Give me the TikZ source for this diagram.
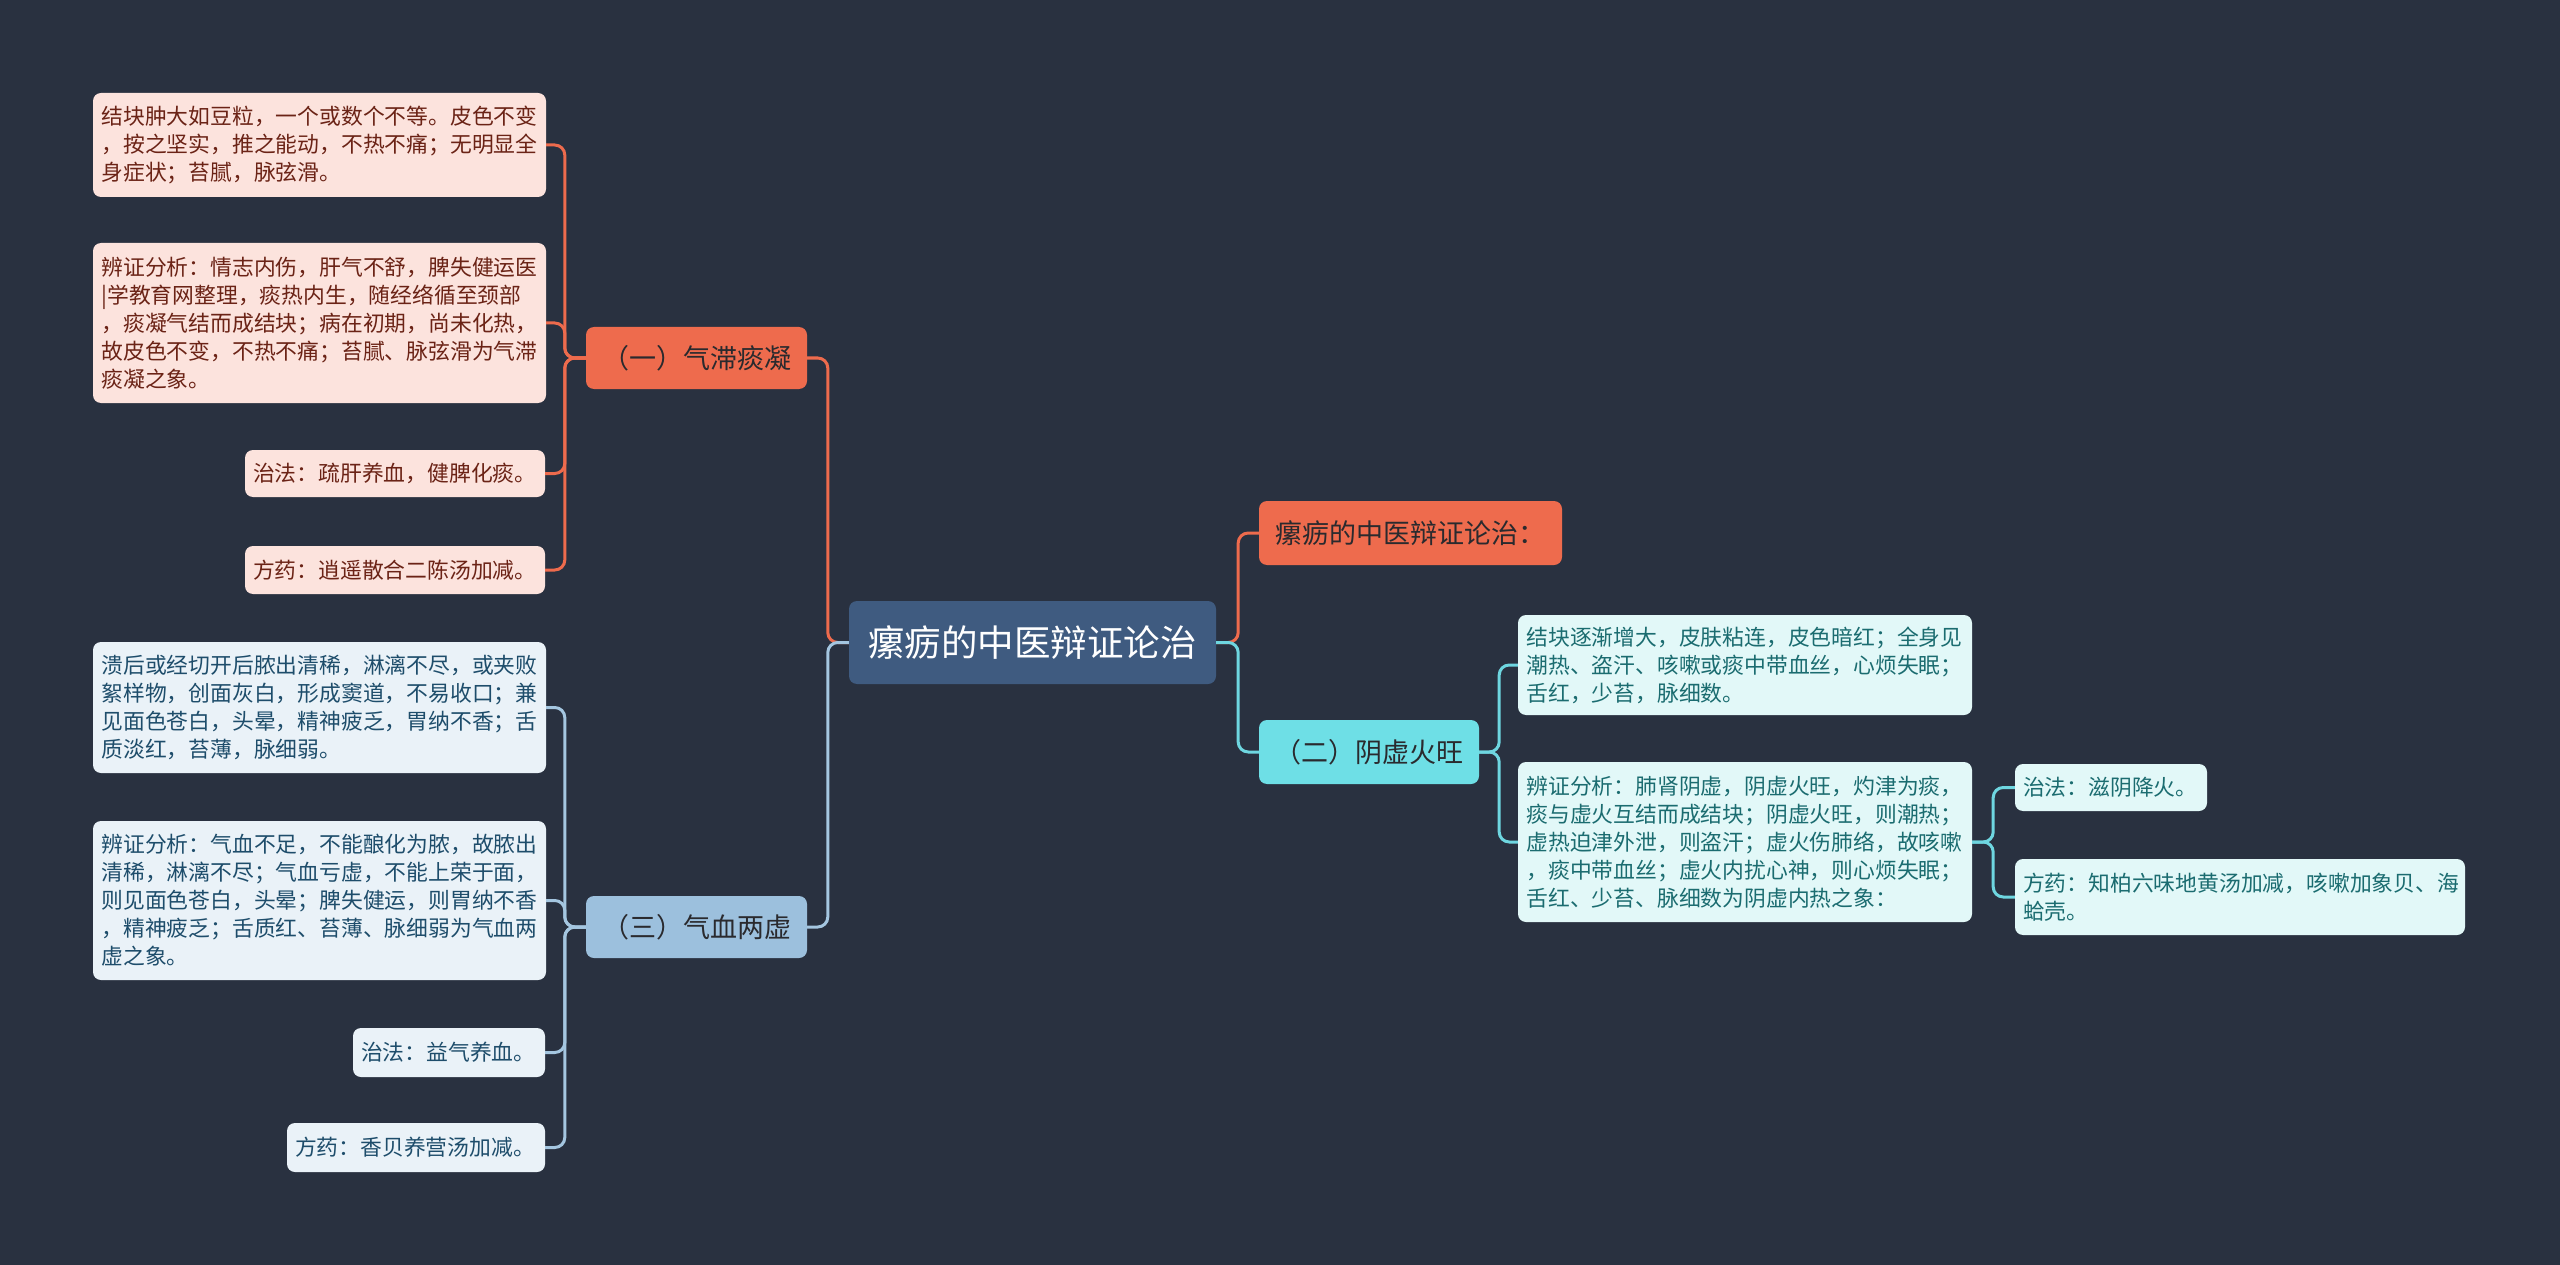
\documentclass[tikz,border=0pt]{standalone}
\usepackage{fontspec}
\setmainfont{Noto Sans CJK SC}
\definecolor{bg}{HTML}{293140}
\definecolor{rootc}{HTML}{3F5B80}
\definecolor{orng}{HTML}{EE6B4D}
\definecolor{orngleaf}{HTML}{FCE3DD}
\definecolor{orngtxt}{HTML}{6B2316}
\definecolor{blub}{HTML}{9CC0DD}
\definecolor{bluleaf}{HTML}{EAF2F8}
\definecolor{blutxt}{HTML}{1E4D6B}
\definecolor{bluline}{HTML}{A4C6E0}
\definecolor{cyb}{HTML}{6EDFE6}
\definecolor{cyleaf}{HTML}{E2F8F8}
\definecolor{cytxt}{HTML}{1B6C70}
\definecolor{cyline}{HTML}{6ED6E0}
\definecolor{darktxt}{HTML}{2A2A2E}
\tikzset{
  box/.style={rounded corners=8pt, inner xsep=10pt, inner ysep=0pt, align=left},
  rootbox/.style={box, fill=rootc, text=white, font=\fontsize{36.5}{42}\selectfont, align=center},
  branchbox/.style={box, text=darktxt, font=\fontsize{27}{32}\selectfont, align=center},
  leaf/.style={box, font=\fontsize{21.8}{28}\selectfont},
  oleaf/.style={leaf, fill=orngleaf, text=orngtxt},
  bleaf/.style={leaf, fill=bluleaf, text=blutxt},
  cleaf/.style={leaf, fill=cyleaf, text=cytxt},
  conn/.style={line width=3pt, rounded corners=10pt},
}
\begin{document}
\begin{tikzpicture}[x=1pt,y=-1pt]
\useasboundingbox (0,0) rectangle (2560,1265);
\fill[bg] (0,0) rectangle (2560,1265);

% root
\node[rootbox, minimum width=367, minimum height=83] (root) at (1032.5,642.5) {瘰疬的中医辩证论治};

% branches
\node[branchbox, fill=orng, minimum width=303, minimum height=64] (b1) at (1410.5,533) {瘰疬的中医辩证论治：};
\node[branchbox, fill=cyb, minimum width=220, minimum height=64] (b2) at (1369,752) {（二）阴虚火旺};
\node[branchbox, fill=orng, minimum width=221, minimum height=62] (b3) at (696.5,358) {（一）气滞痰凝};
\node[branchbox, fill=blub, minimum width=221, minimum height=62] (b4) at (696.5,927) {（三）气血两虚};

% orange leaves
\node[oleaf, text width=436, inner xsep=8.5pt, minimum height=104] (l1) at (319.5,145) {结块肿大如豆粒，一个或数个不等。皮色不变\\，按之坚实，推之能动，不热不痛；无明显全\\身症状；苔腻，脉弦滑。};
\node[oleaf, text width=436, inner xsep=8.5pt, minimum height=160] (l2) at (319.5,323) {辨证分析：情志内伤，肝气不舒，脾失健运医\\|学教育网整理，痰热内生，随经络循至颈部\\，痰凝气结而成结块；病在初期，尚未化热，\\故皮色不变，不热不痛；苔腻、脉弦滑为气滞\\痰凝之象。};
\node[oleaf, text width=284, inner xsep=8pt, minimum height=47] (l3) at (395,473.5) {治法：疏肝养血，健脾化痰。};
\node[oleaf, text width=284, inner xsep=8pt, minimum height=48] (l4) at (395,570) {方药：逍遥散合二陈汤加减。};

% blue leaves
\node[bleaf, text width=436, inner xsep=8.5pt, minimum height=131] (l5) at (319.5,707.5) {溃后或经切开后脓出清稀，淋漓不尽，或夹败\\絮样物，创面灰白，形成窦道，不易收口；兼\\见面色苍白，头晕，精神疲乏，胃纳不香；舌\\质淡红，苔薄，脉细弱。};
\node[bleaf, text width=436, inner xsep=8.5pt, minimum height=159] (l6) at (319.5,900.5) {辨证分析：气血不足，不能酿化为脓，故脓出\\清稀，淋漓不尽；气血亏虚，不能上荣于面，\\则见面色苍白，头晕；脾失健运，则胃纳不香\\，精神疲乏；舌质红、苔薄、脉细弱为气血两\\虚之象。};
\node[bleaf, text width=176, inner xsep=8pt, minimum height=49] (l7) at (449,1052.5) {治法：益气养血。};
\node[bleaf, text width=242, inner xsep=8pt, minimum height=49] (l8) at (416,1147.5) {方药：香贝养营汤加减。};

% cyan leaves
\node[cleaf, text width=437, inner xsep=8.5pt, minimum height=100] (r1) at (1745,665) {结块逐渐增大，皮肤粘连，皮色暗红；全身见\\潮热、盗汗、咳嗽或痰中带血丝，心烦失眠；\\舌红，少苔，脉细数。};
\node[cleaf, text width=437, inner xsep=8.5pt, minimum height=160] (r2) at (1745,842) {辨证分析：肺肾阴虚，阴虚火旺，灼津为痰，\\痰与虚火互结而成结块；阴虚火旺，则潮热；\\虚热迫津外泄，则盗汗；虚火伤肺络，故咳嗽\\，痰中带血丝；虚火内扰心神，则心烦失眠；\\舌红、少苔、脉细数为阴虚内热之象：};
\node[cleaf, text width=176, inner xsep=8pt, minimum height=47] (r3) at (2111,787.5) {治法：滋阴降火。};
\node[cleaf, text width=434, inner xsep=8pt, minimum height=76] (r4) at (2240,897) {方药：知柏六味地黄汤加减，咳嗽加象贝、海\\蛤壳。};

% connectors: root
\draw[conn, orng] (root.west) -- ++(-21,0) |- (b3.east);
\draw[conn, bluline] (root.west) -- ++(-21,0) |- (b4.east);
\draw[conn, orng] (root.east) -- ++(22,0) |- (b1.west);
\draw[conn, cyline] (root.east) -- ++(22,0) |- (b2.west);

% connectors: b3
\foreach \n in {l1,l2,l3,l4}
  \draw[conn, orng] (b3.west) -- ++(-21,0) |- (\n.east);
% connectors: b4
\foreach \n in {l5,l6,l7,l8}
  \draw[conn, bluline] (b4.west) -- ++(-21,0) |- (\n.east);
% connectors: b2
\foreach \n in {r1,r2}
  \draw[conn, cyline] (b2.east) -- ++(20,0) |- (\n.west);
% connectors: r2
\foreach \n in {r3,r4}
  \draw[conn, cyline] (r2.east) -- ++(21,0) |- (\n.west);
\end{tikzpicture}
\end{document}
